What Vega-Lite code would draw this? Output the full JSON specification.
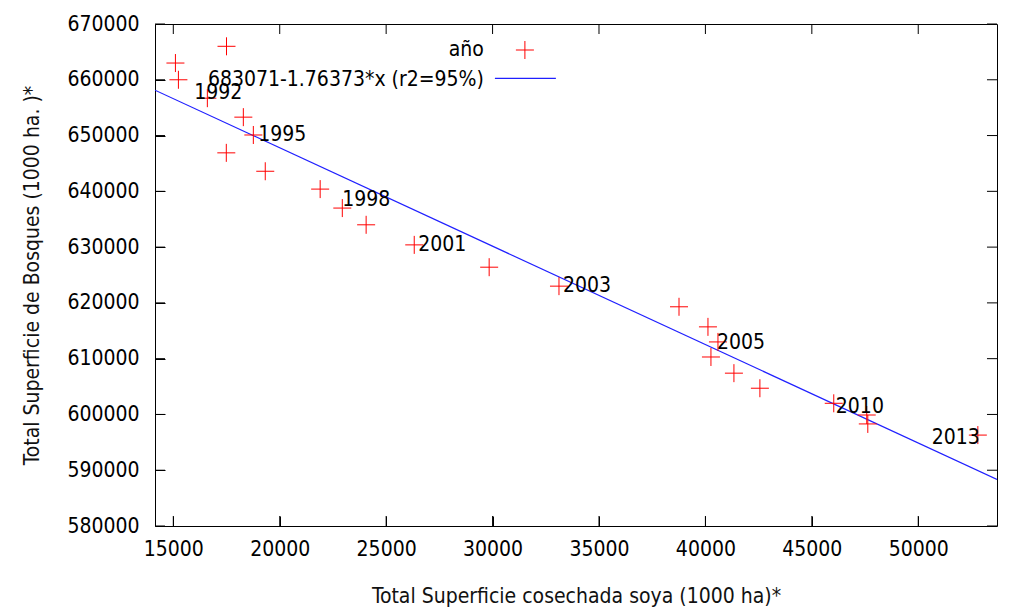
{
  "$schema": "https://vega.github.io/schema/vega-lite/v6.json",
  "autosize": "none",
  "width": 842,
  "height": 502,
  "padding": {"left": 155, "top": 24, "right": 15, "bottom": 83},
  "background": "white",
  "config": {
    "font": "DejaVu Sans Condensed, Liberation Sans, sans-serif",
    "view": {"stroke": "#000000", "strokeWidth": 1},
    "axis": {
      "labelFont": "DejaVu Sans Condensed, Liberation Sans, sans-serif",
      "labelFontSize": 21,
      "labelColor": "#000000",
      "titleFont": "DejaVu Sans Condensed, Liberation Sans, sans-serif",
      "titleFontSize": 21,
      "titleFontWeight": "normal",
      "titleColor": "#111111"
    }
  },
  "datasets": {
    "fit": [
      {"x": 14140, "y": 658132},
      {"x": 53700, "y": 588359}
    ],
    "pts": [
      {"year": 1990, "soya": 17500, "bosques": 666000},
      {"year": 1991, "soya": 15100, "bosques": 663000},
      {"year": 1992, "soya": 15240, "bosques": 660000},
      {"year": 1993, "soya": 16600, "bosques": 656700},
      {"year": 1994, "soya": 18290, "bosques": 653300},
      {"year": 1995, "soya": 18760, "bosques": 650100},
      {"year": 1996, "soya": 17490, "bosques": 646900},
      {"year": 1997, "soya": 19320, "bosques": 643600},
      {"year": 1998, "soya": 21900, "bosques": 640400},
      {"year": 1999, "soya": 22940, "bosques": 637000},
      {"year": 2000, "soya": 24060, "bosques": 634000},
      {"year": 2001, "soya": 26320, "bosques": 630400},
      {"year": 2002, "soya": 29840, "bosques": 626400},
      {"year": 2003, "soya": 33120, "bosques": 623000},
      {"year": 2004, "soya": 38760, "bosques": 619300},
      {"year": 2005, "soya": 40120, "bosques": 615700},
      {"year": 2006, "soya": 40590, "bosques": 613000},
      {"year": 2007, "soya": 40260, "bosques": 610300},
      {"year": 2008, "soya": 41340, "bosques": 607400},
      {"year": 2009, "soya": 42560, "bosques": 604700},
      {"year": 2010, "soya": 46030, "bosques": 602000},
      {"year": 2011, "soya": 47580, "bosques": 599900},
      {"year": 2012, "soya": 47630, "bosques": 598300},
      {"year": 2013, "soya": 52800, "bosques": 596300}
    ],
    "labels": [
      {"text": "1992", "x": 15986, "y": 657628},
      {"text": "1995", "x": 18991, "y": 650098},
      {"text": "1998", "x": 22935, "y": 638443},
      {"text": "2001", "x": 26503, "y": 630375},
      {"text": "2003", "x": 33310, "y": 623000},
      {"text": "2005", "x": 40541, "y": 612800},
      {"text": "2010", "x": 46128, "y": 601330},
      {"text": "2013", "x": 50635, "y": 595770}
    ],
    "legendText": [
      {"text": "año", "x": 29593, "y": 665338},
      {"text": "683071-1.76373*x (r2=95%)", "x": 29593, "y": 659960}
    ],
    "legendPoint": [
      {"x": 31519, "y": 665338}
    ],
    "legendLine": [
      {"x": 30110, "x2": 32975, "y": 660260}
    ],
    "xticks": [
      {"v": 15000}, {"v": 20000}, {"v": 25000}, {"v": 30000},
      {"v": 35000}, {"v": 40000}, {"v": 45000}, {"v": 50000}
    ],
    "yticks": [
      {"v": 580000}, {"v": 590000}, {"v": 600000}, {"v": 610000}, {"v": 620000},
      {"v": 630000}, {"v": 640000}, {"v": 650000}, {"v": 660000}, {"v": 670000}
    ]
  },
  "layer": [
    {
      "data": {"name": "fit"},
      "mark": {"type": "line", "color": "#2020ff", "strokeWidth": 1.2, "clip": true},
      "encoding": {
        "x": {
          "field": "x", "type": "quantitative",
          "scale": {"domain": [14140, 53700], "nice": false, "zero": false},
          "axis": {
            "title": "Total Superficie cosechada soya (1000 ha)*",
            "values": [15000, 20000, 25000, 30000, 35000, 40000, 45000, 50000],
            "format": "d",
            "grid": false,
            "domain": false,
            "ticks": true,
            "tickSize": -10,
            "tickColor": "black",
            "labelPadding": 22,
            "titlePadding": 26
          }
        },
        "y": {
          "field": "y", "type": "quantitative",
          "scale": {"domain": [580000, 670000], "nice": false, "zero": false},
          "axis": {
            "title": "Total Superficie de Bosques (1000 ha. )*",
            "values": [580000, 590000, 600000, 610000, 620000, 630000, 640000, 650000, 660000, 670000],
            "format": "d",
            "grid": false,
            "domain": false,
            "ticks": true,
            "tickSize": -10,
            "tickColor": "black",
            "labelPadding": 26,
            "titlePadding": 24
          }
        }
      }
    },
    {
      "data": {"name": "xticks"},
      "mark": {"type": "rule", "color": "#000000", "strokeWidth": 1},
      "encoding": {
        "x": {"field": "v", "type": "quantitative"},
        "y": {"datum": 580000},
        "y2": {"datum": 581793}
      }
    },
    {
      "data": {"name": "xticks"},
      "mark": {"type": "rule", "color": "#000000", "strokeWidth": 1},
      "encoding": {
        "x": {"field": "v", "type": "quantitative"},
        "y": {"datum": 670000},
        "y2": {"datum": 668207}
      }
    },
    {
      "data": {"name": "yticks"},
      "mark": {"type": "rule", "color": "#000000", "strokeWidth": 1},
      "encoding": {
        "y": {"field": "v", "type": "quantitative"},
        "x": {"datum": 14140},
        "x2": {"datum": 14610}
      }
    },
    {
      "data": {"name": "yticks"},
      "mark": {"type": "rule", "color": "#000000", "strokeWidth": 1},
      "encoding": {
        "y": {"field": "v", "type": "quantitative"},
        "x": {"datum": 53700},
        "x2": {"datum": 53230}
      }
    },
    {
      "data": {"name": "pts"},
      "mark": {
        "type": "point",
        "shape": "M-1,0L1,0M0,-1L0,1",
        "filled": false,
        "stroke": "#ff0000",
        "strokeWidth": 1,
        "size": 324,
        "opacity": 1
      },
      "encoding": {
        "x": {"field": "soya", "type": "quantitative"},
        "y": {"field": "bosques", "type": "quantitative"}
      }
    },
    {
      "data": {"name": "labels"},
      "mark": {"type": "text", "align": "left", "baseline": "middle", "fontSize": 21, "color": "#000000"},
      "encoding": {
        "x": {"field": "x", "type": "quantitative"},
        "y": {"field": "y", "type": "quantitative"},
        "text": {"field": "text"}
      }
    },
    {
      "data": {"name": "legendText"},
      "mark": {"type": "text", "align": "right", "baseline": "middle", "fontSize": 21, "color": "#000000"},
      "encoding": {
        "x": {"field": "x", "type": "quantitative"},
        "y": {"field": "y", "type": "quantitative"},
        "text": {"field": "text"}
      }
    },
    {
      "data": {"name": "legendPoint"},
      "mark": {
        "type": "point",
        "shape": "M-1,0L1,0M0,-1L0,1",
        "filled": false,
        "stroke": "#ff0000",
        "strokeWidth": 1,
        "size": 324,
        "opacity": 1
      },
      "encoding": {
        "x": {"field": "x", "type": "quantitative"},
        "y": {"field": "y", "type": "quantitative"}
      }
    },
    {
      "data": {"name": "legendLine"},
      "mark": {"type": "rule", "color": "#2020ff", "strokeWidth": 1.2},
      "encoding": {
        "x": {"field": "x", "type": "quantitative"},
        "x2": {"field": "x2"},
        "y": {"field": "y", "type": "quantitative"}
      }
    }
  ]
}
